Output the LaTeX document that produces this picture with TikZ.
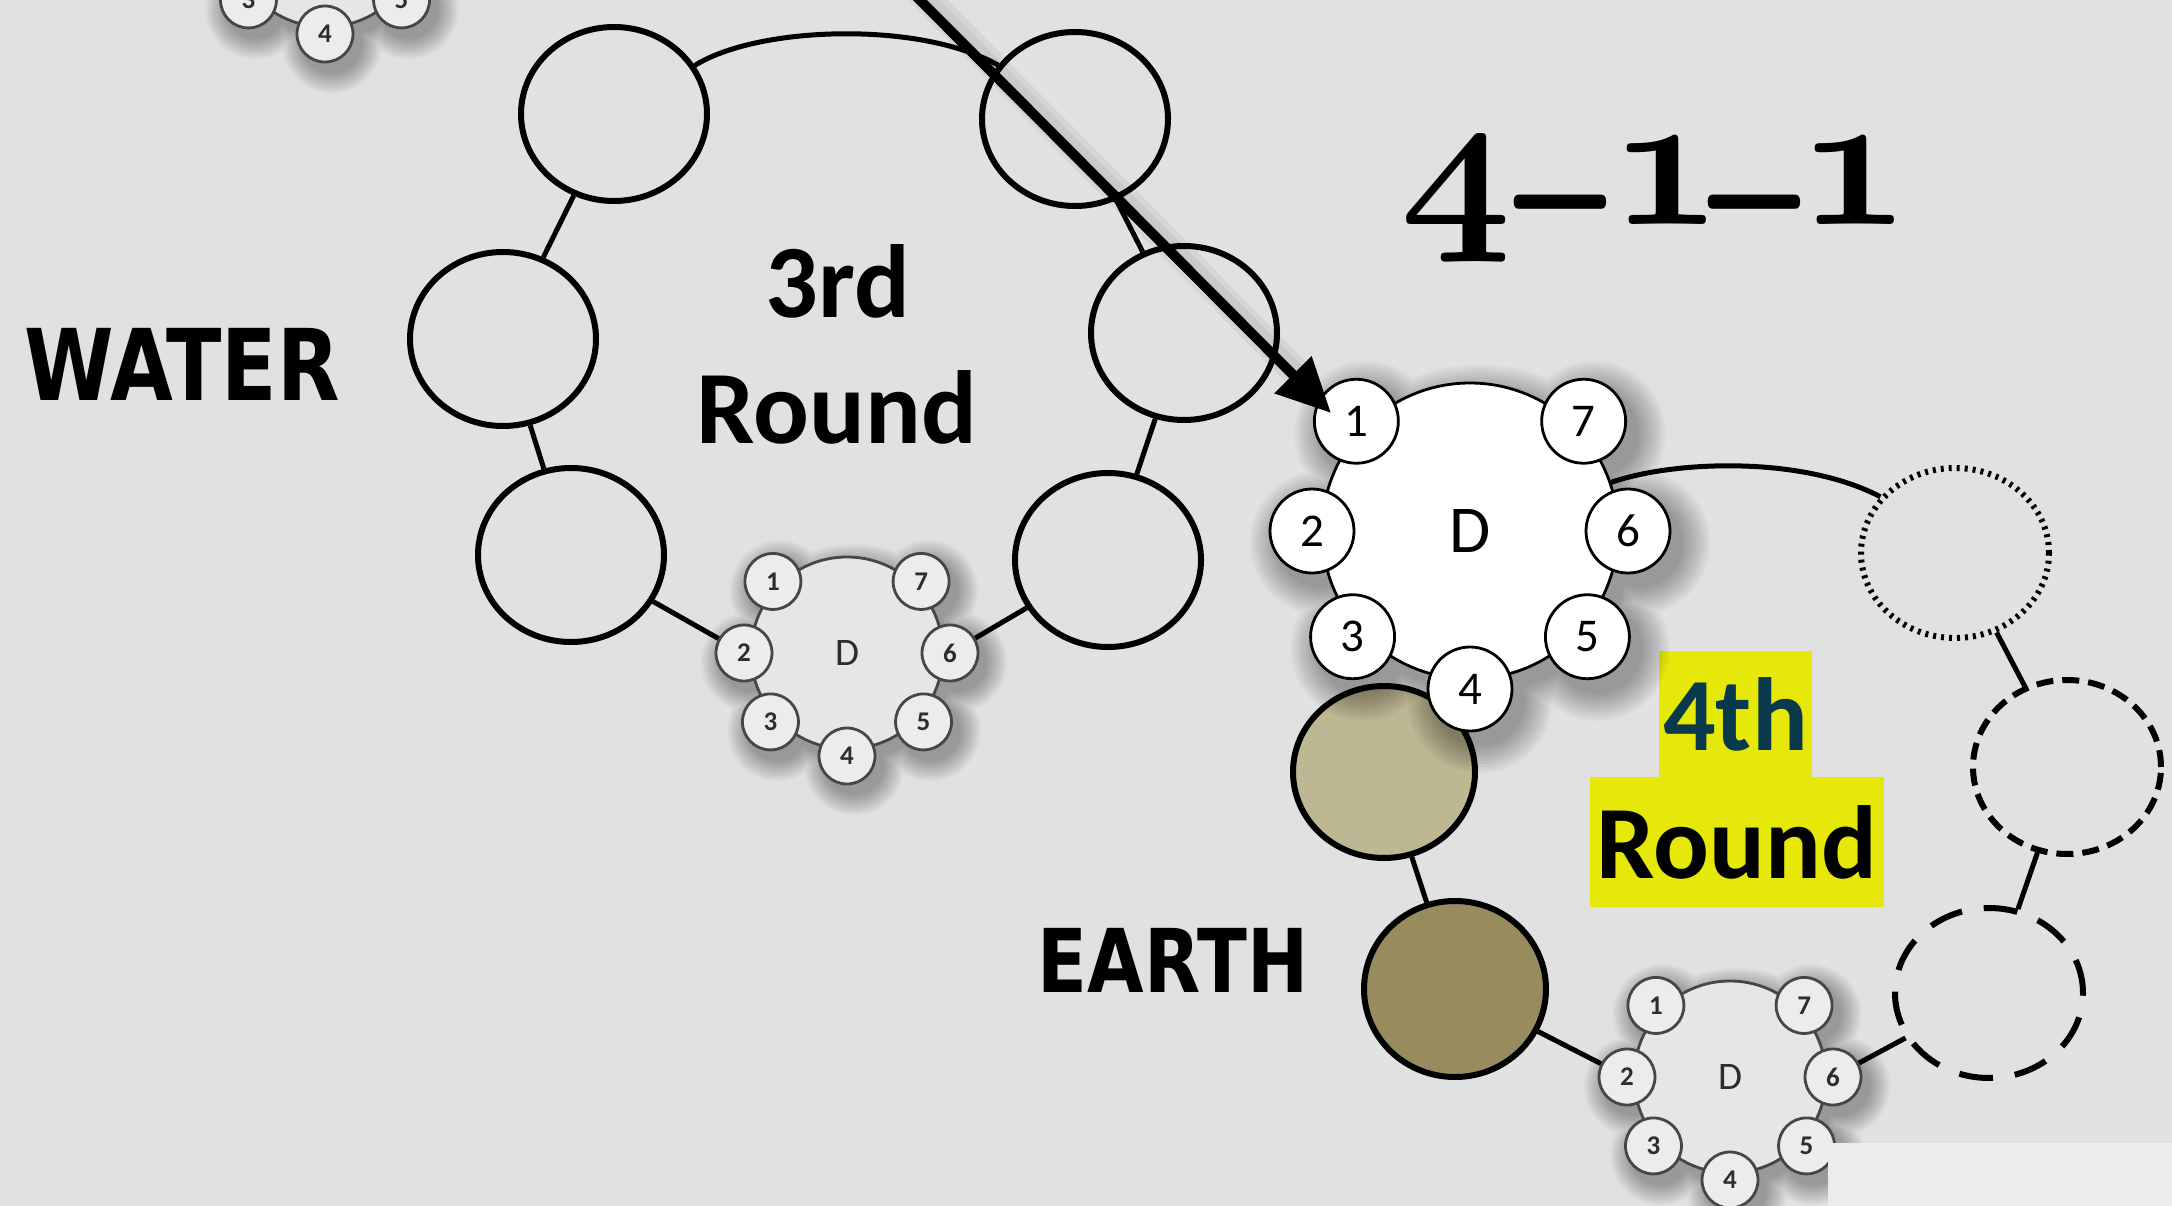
\documentclass[tikz,border=0pt]{standalone}
\usepackage{graphicx}
\usepackage{fontspec}
\usetikzlibrary{shapes.geometric,arrows.meta,calc}
\newfontfamily\carlito{Carlito}
\newfontfamily\djv{DejaVu Sans}
\definecolor{bgc}{RGB}{225,225,225}
\definecolor{smbody}{RGB}{230,230,230}
\definecolor{smcirc}{RGB}{236,236,236}
\definecolor{smline}{RGB}{70,70,70}
\definecolor{smtext}{RGB}{45,45,45}
\definecolor{earthA}{RGB}{190,183,148}
\definecolor{earthB}{RGB}{152,140,94}
\definecolor{hlyellow}{RGB}{230,232,10}
\definecolor{tealtxt}{RGB}{8,58,76}
\definecolor{lightrect}{RGB}{236,236,236}

\DeclareFontFamily{OML}{myoldnum}{\skewchar\font=127 }
\DeclareFontShape{OML}{myoldnum}{b}{it}{<-> cmmib10}{}
\DeclareFontFamily{OMS}{myboldsy}{\skewchar\font=48 }
\DeclareFontShape{OMS}{myboldsy}{b}{n}{<-> cmbsy10}{}
\newcommand{\osdigit}[1]{{\usefont{OML}{myoldnum}{b}{it}#1}}
\newcommand{\osminus}{{\usefont{OMS}{myboldsy}{b}{n}\raisebox{-36pt}{\scalebox{0.68}[1.2]{\char0}}}}

\newcommand{\smallparams}{%
  \def\clRing{103pt}\def\clRad{28pt}\def\clBody{96pt}%
  \def\clDig{27}\def\clDsize{39}%
  \def\clShX{7}\def\clShY{9}\def\clShStep{2.2}\def\clShOp{0.035}%
  \def\clLine{smline}\def\clBodyFill{smbody}\def\clCircFill{smcirc}%
  \def\clText{smtext}\def\clLW{2.8pt}\def\clWeight{\bfseries}}
\newcommand{\bigparams}{%
  \def\clRing{158pt}\def\clRad{42pt}\def\clBody{148pt}%
  \def\clDig{47}\def\clDsize{67}%
  \def\clShX{10}\def\clShY{12}\def\clShStep{3}\def\clShOp{0.035}%
  \def\clLine{black}\def\clBodyFill{white}\def\clCircFill{white}%
  \def\clText{black}\def\clLW{2.8pt}\def\clWeight{\mdseries}}

\newcommand{\drawcluster}[3]{%
  \coordinate (#1) at (#2,#3);
  \foreach \k in {1,...,10}{%
    \fill[black,opacity=\clShOp]
      ($(#1)+(\clShX,\clShY)$) circle[radius=\clBody+\k*\clShStep]
      \foreach \a in {136,180,222,270,318,0,44}{
        ($(#1)+(\clShX,\clShY)+(\a:\clRing)$) circle[radius=\clRad+\k*\clShStep]
      };
  }%
  \node[clbody,minimum size=2*\clBody] (#1-body) at (#1) {};
  \foreach \n/\a in {1/136,2/180,3/222,4/270,5/318,6/0,7/44}{%
    \node[clcirc,minimum size=2*\clRad] (#1-\n) at ($(#1)+(\a:\clRing)$) {\n};
  }%
  \node[clD] (#1-D) at (#1) {D};
}

\begin{document}
\begin{tikzpicture}[x=1pt,y=-1pt,
  bigc/.style={ellipse, draw=black, line width=6pt, inner sep=0pt,
    minimum width=186pt, minimum height=174pt},
  link/.style={draw=black, line width=5pt},
  earthc/.style={ellipse, draw=black, line width=6pt, inner sep=0pt,
    minimum width=182pt, minimum height=172pt},
  clbody/.style={circle, draw=\clLine, fill=\clBodyFill, line width=\clLW, inner sep=0pt},
  clcirc/.style={circle, draw=\clLine, fill=\clCircFill, line width=\clLW, inner sep=0pt,
    text=\clText, font=\carlito\clWeight\fontsize{\clDig}{\clDig}\selectfont},
  clD/.style={inner sep=0pt, text=\clText, font=\carlito\fontsize{\clDsize}{\clDsize}\selectfont},
  rnd/.style={inner sep=0pt, font=\carlito\bfseries\fontsize{104}{104}\selectfont},
  hlbox/.style={rnd, fill=hlyellow},
  arrowline/.style={draw=black, line width=10pt, -{Triangle[length=54pt,width=50pt]}},
]
\useasboundingbox (0,0) rectangle (2172,1206);
\fill[bgc] (0,0) rectangle (2172,1206);
\begin{scope}
\clip (0,0) rectangle (2172,1206);

% top-left partial cluster
\smallparams
\drawcluster{tl}{325}{-69}

% 3rd round
\node[bigc] (A1) at (614,114) {};
\node[bigc] (A2) at (1075,119) {};
\node[bigc] (A3) at (503,339) {};
\node[bigc] (A4) at (1184,333) {};
\node[bigc] (A5) at (571,555) {};
\node[bigc] (A6) at (1108,560) {};
\drawcluster{sA}{847}{653}
\draw[link] (A1.31) .. controls +(64,-40) and +(-77,-44) .. (A2.145);
\draw[link] (A1) -- (A3);
\draw[link] (A3) -- (A5);
\draw[link] (A2) -- (A4);
\draw[link] (A4) -- (A6);
\draw[link] (A5) -- (sA-2);
\draw[link] (A6) -- (sA-6);

\node[rnd, anchor=base] (t3a) at (838,318) {3rd};
\node[rnd, anchor=base] (t3b) at (837,443) {Round};
\node[inner sep=0pt] (water) at (182,364)
  {\djv\bfseries\fontsize{99}{99}\selectfont\scalebox{0.82}[1]{WATER}};

% 4th round
\node[earthc, fill=earthA] (E1) at (1384,772) {};
\node[earthc, fill=earthB, minimum height=176pt] (E2) at (1455,989) {};
\node[bigc, minimum width=188pt, minimum height=170pt, dash pattern=on 3pt off 5pt] (B1) at (1955,553) {};
\node[bigc, minimum width=188pt, minimum height=174pt, dash pattern=on 17pt off 9pt] (B2) at (2067,767) {};
\node[bigc, minimum width=188pt, minimum height=170pt, dash pattern=on 34pt off 22pt] (B3) at (1989,993) {};
\drawcluster{sB}{1730}{1077}
\draw[link] (E1) -- (E2);
\draw[link] (E2) -- (sB-2);
\draw[link] (B1) -- (B2);
\draw[link] (B2) -- (B3);
\draw[link] (B3) -- (sB-6);

\node[hlbox, minimum width=294pt, minimum height=130pt] (r4b) at (1737,842) {Round};
\node[hlbox, minimum width=153pt, minimum height=127pt, text=tealtxt] (r4a) at (1735.5,714) {4th};
\node[inner sep=0pt] (earth) at (1173,960)
  {\djv\bfseries\fontsize{88}{88}\selectfont\scalebox{0.83}[1]{EARTH}};

\bigparams
\drawcluster{bigD}{1470}{531}
\draw[link] (bigD-body.19) .. controls +(63,-22) and +(-78,-41) .. (B1.143);

% title
\node[anchor=base west, inner sep=0pt, font=\fontsize{194}{194}\selectfont] (title) at (1400,225)
  {\osdigit{4}\kern-10pt\osminus\kern-9pt\osdigit{1}\kern-26.5pt\osminus\kern-15pt\osdigit{1}};

% lighter patch
\fill[lightrect] (1828,1143) rectangle (2172,1206);

% arrow
\coordinate (arrtail) at (905,-15);
\coordinate (arrtip) at (1331,413);
\draw[black, opacity=0.05, line width=28pt] ($(arrtail)+(8,0)$) -- ($(arrtip)+(-30,-36)$);
\draw[black, opacity=0.05, line width=18pt] ($(arrtail)+(6,0)$) -- ($(arrtip)+(-30,-36)$);
\draw[arrowline] (arrtail) -- (arrtip);
\end{scope}
\end{tikzpicture}
\end{document}
